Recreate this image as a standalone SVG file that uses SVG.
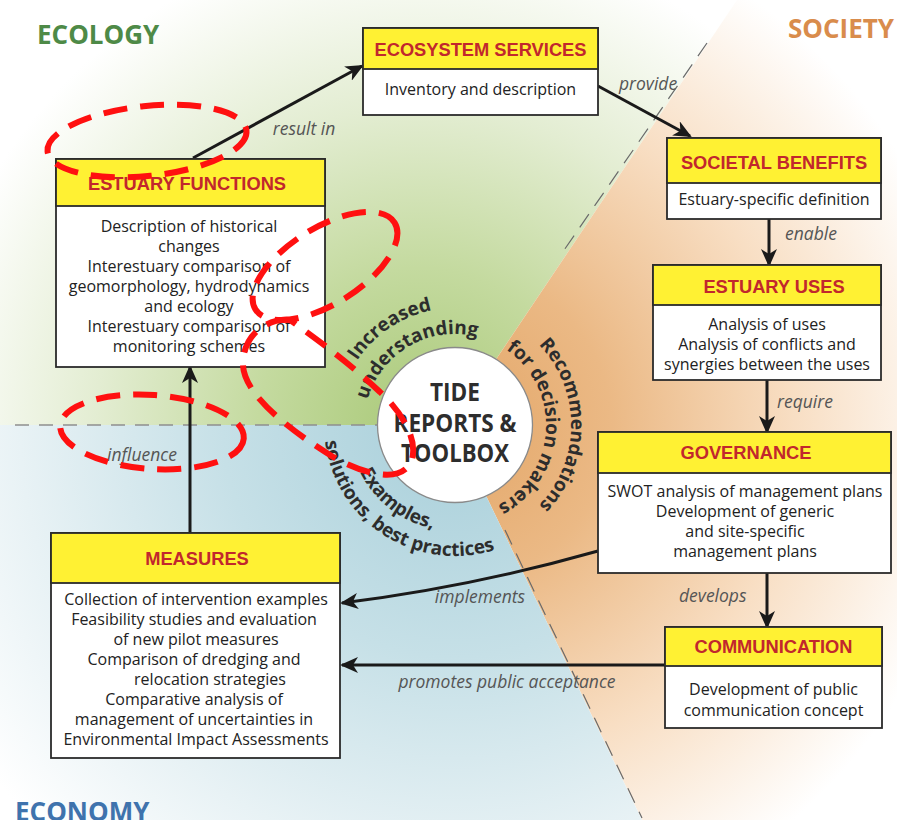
<svg xmlns="http://www.w3.org/2000/svg" width="897" height="820" viewBox="0 0 897 820">
<style>
  text { font-family: "Open Sans", "Liberation Sans", Arial, sans-serif; }
  .hdr { fill: #fff133; stroke: #2b2b2b; stroke-width: 1.8; }
  .bdy { fill: #ffffff; stroke: #2b2b2b; stroke-width: 1.8; }
  .ttl { font-family: "Liberation Sans", Arial, sans-serif; font-size: 18.3px; font-weight: bold; fill: #c1272d; text-anchor: middle; }
  .txt { font-size: 16px; fill: #222; text-anchor: middle; }
  .lbl { font-size: 17.5px; font-style: italic; fill: #555; }
  .arc { font-size: 19px; font-weight: bold; fill: #2d2d2d; }
  .con { fill: none; stroke: #1a1a1a; stroke-width: 3; marker-end: url(#arr); }
  .red { fill: none; stroke: #ff1010; stroke-width: 6; stroke-dasharray: 24 13; }
  .dsh { fill: none; stroke: #6a6a6a; stroke-width: 1.2; stroke-dasharray: 16 10; }
  .hdsh { fill: none; stroke: #8f8f8f; stroke-width: 1.6; stroke-dasharray: 14 10; }
  .region { font-weight: bold; font-size: 26px; }
</style>
<defs>
  <radialGradient id="gGreen" gradientUnits="userSpaceOnUse" cx="420" cy="430" r="540">
    <stop offset="0" stop-color="#a9c978"/>
    <stop offset="0.3" stop-color="#c4da9f"/>
    <stop offset="0.6" stop-color="#e3edd2"/>
    <stop offset="0.92" stop-color="#ffffff"/>
  </radialGradient>
  <radialGradient id="gOrange" gradientUnits="userSpaceOnUse" cx="455" cy="425" r="520">
    <stop offset="0" stop-color="#e3a667"/>
    <stop offset="0.3" stop-color="#ebb985"/>
    <stop offset="0.65" stop-color="#f8dec3"/>
    <stop offset="1" stop-color="#ffffff"/>
  </radialGradient>
  <radialGradient id="gBlue" gradientUnits="userSpaceOnUse" cx="455" cy="425" r="580">
    <stop offset="0" stop-color="#a8cfda"/>
    <stop offset="0.4" stop-color="#c6e0e7"/>
    <stop offset="0.75" stop-color="#e8f2f5"/>
    <stop offset="1" stop-color="#ffffff"/>
  </radialGradient>
  <marker id="arr" markerUnits="userSpaceOnUse" viewBox="0 0 18 16" markerWidth="18" markerHeight="16" refX="16" refY="8" orient="auto">
    <path d="M0,0 L18,8 L0,16 L5,8 Z" fill="#1a1a1a"/>
  </marker>
  <path id="pInc" d="M338.6,412.8 A117,117 0 0,1 487.2,312.5"/>
  <path id="pUnd" d="M364.3,417.1 A91,91 0 0,1 493.5,342.5"/>
  <path id="pRec" d="M513,324.5 A116,116 0 0,1 513,525.5"/>
  <path id="pFor" d="M504.6,348.7 A91,91 0 0,1 496.3,506.1"/>
  <path id="pExa" d="M349.1,428.7 A106,106 0 0,0 477,528.7"/>
  <path id="pSol" d="M325.1,407.9 A131,131 0 0,0 525.4,535.5"/>
</defs>

<g id="background">
  <rect x="0" y="0" width="897" height="820" fill="#ffffff"/>
  <polygon points="0,0 737,0 452,425 0,425" fill="url(#gGreen)"/>
  <polygon points="737,0 897,0 897,820 642,820 452,425" fill="url(#gOrange)"/>
  <polygon points="0,425 452,425 642,820 0,820" fill="url(#gBlue)"/>
  <line class="hdsh" x1="15" y1="425" x2="378" y2="425"/>
  <line class="dsh" x1="707" y1="43" x2="560" y2="256"/>
  <line class="dsh" x1="505" y1="530" x2="642" y2="818"/>
  <text class="region" x="37" y="44" fill="#4e8a47">ECOLOGY</text>
  <text class="region" x="894" y="38" fill="#d98c4c" text-anchor="end">SOCIETY</text>
  <text class="region" x="15" y="821" fill="#3f73ad">ECONOMY</text>
</g>

<g id="connectors">
  <path class="con" d="M193,158 L362,66"/>
  <text class="lbl" x="304" y="135" text-anchor="middle">result in</text>
  <path class="con" d="M598,86 L690,136"/>
  <text class="lbl" x="619" y="90">provide</text>
  <path class="con" d="M769,219 L769,265"/>
  <text class="lbl" x="785" y="240">enable</text>
  <path class="con" d="M767,380 L767,432"/>
  <text class="lbl" x="777" y="408">require</text>
  <path class="con" d="M767,573 L767,627"/>
  <text class="lbl" x="679" y="602">develops</text>
  <path class="con" d="M598,551 Q471,587 342,603"/>
  <text class="lbl" x="480" y="603" text-anchor="middle">implements</text>
  <path class="con" d="M665,665 L342,665"/>
  <text class="lbl" x="507" y="688" text-anchor="middle">promotes public acceptance</text>
  <path class="con" d="M190,533 L190,367"/>
  <text class="lbl" x="142" y="461" text-anchor="middle">influence</text>
</g>

<g id="tide-center">
  <circle cx="455" cy="425" r="77.5" fill="#ffffff" stroke="#8a8a8a" stroke-width="1.3"/>
  <text x="455" y="401" font-size="25" font-weight="bold" fill="#2d2d2d" text-anchor="middle" textLength="50" lengthAdjust="spacingAndGlyphs">TIDE</text>
  <text x="455" y="432" font-size="25" font-weight="bold" fill="#2d2d2d" text-anchor="middle" textLength="123" lengthAdjust="spacingAndGlyphs">REPORTS &amp;</text>
  <text x="455" y="462" font-size="25" font-weight="bold" fill="#2d2d2d" text-anchor="middle" textLength="108" lengthAdjust="spacingAndGlyphs">TOOLBOX</text>
  <text class="arc"><textPath href="#pInc" startOffset="50%" text-anchor="middle">Increased</textPath></text>
  <text class="arc"><textPath href="#pUnd" startOffset="50%" text-anchor="middle">understanding</textPath></text>
  <text class="arc"><textPath href="#pRec" startOffset="50%" text-anchor="middle">Recommendations</textPath></text>
  <text class="arc"><textPath href="#pFor" startOffset="50%" text-anchor="middle">for decision makers</textPath></text>
  <text class="arc"><textPath href="#pExa" startOffset="50%" text-anchor="middle">Examples,</textPath></text>
  <text class="arc"><textPath href="#pSol" startOffset="50%" text-anchor="middle">solutions, best practices</textPath></text>
</g>

<g id="ecosystem-services">
  <rect class="bdy" x="363" y="28" width="235" height="87"/>
  <rect class="hdr" x="363" y="28" width="235" height="41"/>
  <text class="ttl" x="480.5" y="56">ECOSYSTEM SERVICES</text>
  <text class="txt" x="480.5" y="95">Inventory and description</text>
</g>

<g id="societal-benefits">
  <rect class="bdy" x="667" y="138" width="214" height="81"/>
  <rect class="hdr" x="667" y="138" width="214" height="45"/>
  <text class="ttl" x="774" y="169">SOCIETAL BENEFITS</text>
  <text class="txt" x="774" y="205">Estuary-specific definition</text>
</g>

<g id="estuary-uses">
  <rect class="bdy" x="653" y="265" width="228" height="115"/>
  <rect class="hdr" x="653" y="265" width="228" height="40"/>
  <text class="ttl" x="774" y="293">ESTUARY USES</text>
  <text class="txt" x="767" y="330">Analysis of uses</text>
  <text class="txt" x="767" y="350">Analysis of conflicts and</text>
  <text class="txt" x="767" y="370">synergies  between the uses</text>
</g>

<g id="governance">
  <rect class="bdy" x="598" y="432" width="293" height="141"/>
  <rect class="hdr" x="598" y="432" width="293" height="41"/>
  <text class="ttl" x="746" y="459">GOVERNANCE</text>
  <text class="txt" x="745" y="497">SWOT analysis of management plans</text>
  <text class="txt" x="745" y="517">Development of generic</text>
  <text class="txt" x="745" y="537">and site-specific</text>
  <text class="txt" x="745" y="557">management plans</text>
</g>

<g id="communication">
  <rect class="bdy" x="665" y="627" width="217" height="101"/>
  <rect class="hdr" x="665" y="627" width="217" height="39"/>
  <text class="ttl" x="773.5" y="653">COMMUNICATION</text>
  <text class="txt" x="773.5" y="695">Development of public</text>
  <text class="txt" x="773.5" y="716">communication concept</text>
</g>

<g id="estuary-functions">
  <rect class="bdy" x="56" y="159" width="269" height="208"/>
  <rect class="hdr" x="56" y="159" width="269" height="47"/>
  <text class="ttl" x="187" y="190">ESTUARY FUNCTIONS</text>
  <text class="txt" x="189" y="232">Description of historical</text>
  <text class="txt" x="189" y="252">changes</text>
  <text class="txt" x="189" y="272">Interestuary comparison of</text>
  <text class="txt" x="189" y="292">geomorphology, hydrodynamics</text>
  <text class="txt" x="189" y="312">and ecology</text>
  <text class="txt" x="189" y="332">Interestuary comparison of</text>
  <text class="txt" x="189" y="352">monitoring schemes</text>
</g>

<g id="measures">
  <rect class="bdy" x="51" y="533" width="289" height="225"/>
  <rect class="hdr" x="51" y="533" width="289" height="50"/>
  <text class="ttl" x="197" y="565">MEASURES</text>
  <text class="txt" x="196" y="605">Collection of intervention examples</text>
  <text class="txt" x="194" y="625">Feasibility studies and evaluation</text>
  <text class="txt" x="196" y="645">of new pilot measures</text>
  <text class="txt" x="194" y="665">Comparison of dredging and</text>
  <text class="txt" x="210" y="685">relocation strategies</text>
  <text class="txt" x="194" y="705">Comparative analysis of</text>
  <text class="txt" x="194" y="725">management of uncertainties in</text>
  <text class="txt" x="196" y="745">Environmental Impact Assessments</text>
</g>

<g id="annotations">
  <ellipse class="red" cx="147" cy="141" rx="100" ry="35" transform="rotate(-6 147 141)"/>
  <ellipse class="red" cx="325" cy="266" rx="82" ry="38" transform="rotate(-32 325 266)"/>
  <path class="red" d="M290,320 C262,318 242,340 243,365 C244,395 290,430 330,455 C360,473 400,485 411,462 C420,440 400,410 380,392 C355,368 325,345 290,320 Z"/>
  <ellipse class="red" cx="152" cy="432" rx="92" ry="37" transform="rotate(4 152 432)"/>
</g>
</svg>
